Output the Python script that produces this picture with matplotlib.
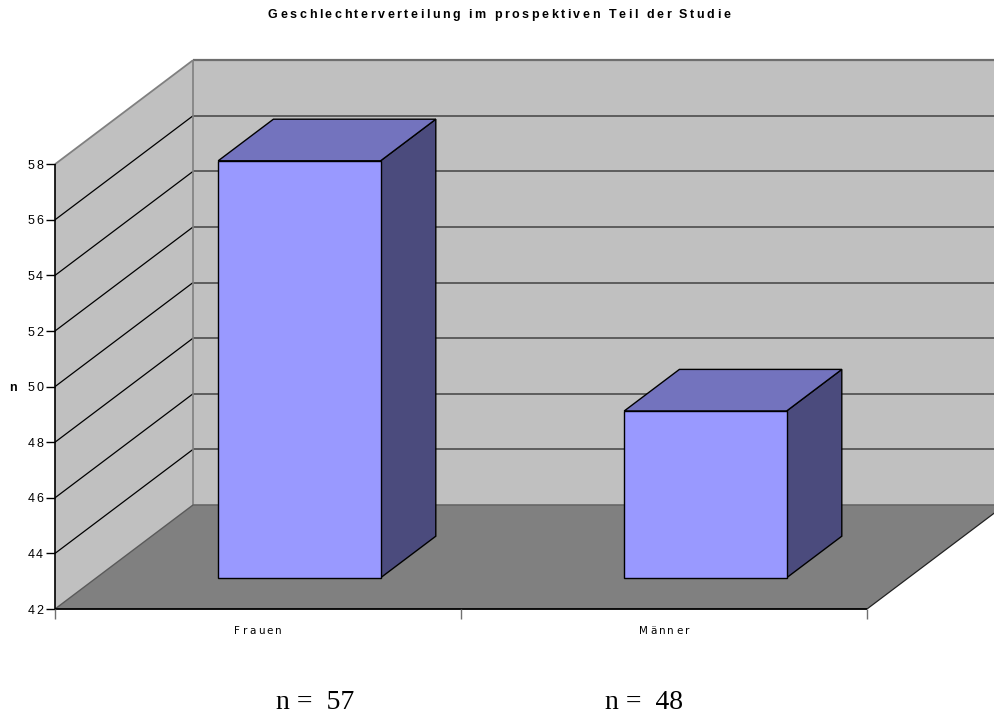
import matplotlib
matplotlib.use("Agg")
import matplotlib.pyplot as plt
from matplotlib.patches import Polygon
from matplotlib.transforms import IdentityTransform
from matplotlib import font_manager
from matplotlib.ft2font import FT2Font

# ---- data -------------------------------------------------------------
categories = ["Frauen", "Männer"]
counts = [57, 48]
count_labels = ["n =  57", "n =  48"]
y_ticks = [42, 44, 46, 48, 50, 52, 54, 56, 58]
y_label = "n"
title = "Geschlechterverteilung im prospektiven Teil der Studie"

# ---- figure / projection setup ---------------------------------------
W, H, DPI = 994, 715, 100
X0_PX, CAT_PX = 55, 406          # left edge of floor, width of one category
BASE_PX, V_PX = 609, 27.8        # pixel row of the 42-line, pixels per unit
V0, V1 = y_ticks[0], y_ticks[-1]
DEPTH_X = 138 / CAT_PX           # oblique depth offset (category units)
DEPTH_V = 104 / V_PX             # oblique depth offset (value units)
BAR_W = 0.40
BAR_D0, BAR_D1 = 0.30, 0.70

WALL = "#C0C0C0"
FLOOR = "#808080"
FRONT = "#9999FF"
TOP = "#7373BE"
SIDE = "#4B4B7D"
SANS = "Liberation Sans"

fig = plt.figure(figsize=(W / DPI, H / DPI), dpi=DPI)
ax = fig.add_axes([0, 0, 1, 1])
ax.set_axis_off()
ax.set_xlim(-X0_PX / CAT_PX, (W - X0_PX) / CAT_PX)
ax.set_ylim(V0 - (H - BASE_PX) / V_PX, V0 + BASE_PX / V_PX)


def proj(x, d, v):
    return (x + d * DEPTH_X, v + d * DEPTH_V)


def poly(pts, fc, ec="none", lw=0.0, z=1):
    ax.add_patch(Polygon(pts, closed=True, facecolor=fc, edgecolor=ec,
                         linewidth=lw, zorder=z, joinstyle="miter"))


def line(p, q, color, lw, z=2):
    ax.plot([p[0], q[0]], [p[1], q[1]], color=color, lw=lw, zorder=z,
            solid_capstyle="butt")


def spaced_text(xd, yd, s, size, weight="normal", spacing=0.0, ha="left",
                family=SANS, width=None, color="black"):
    """Draw text char by char with extra tracking; xd/yd in display px, yd = baseline."""
    fp = font_manager.FontProperties(family=family, weight=weight, size=size)
    font = FT2Font(font_manager.findfont(fp))
    font.set_size(size, DPI)
    advs = [font.load_char(ord(c)).linearHoriAdvance / 65536 for c in s]
    if width is not None and len(s) > 1:
        spacing = (width - sum(advs)) / (len(s) - 1)
    total = sum(advs) + spacing * (len(s) - 1)
    if ha == "center":
        x = xd - total / 2
    elif ha == "right":
        x = xd - total
    else:
        x = xd
    for c, a in zip(s, advs):
        fig.text(x, yd, c, fontproperties=fp, ha="left", va="baseline",
                 transform=IdentityTransform(), color=color)
        x += a + spacing


n_cat = len(categories)

# ---- walls and floor --------------------------------------------------
poly([proj(0, 0, V0), proj(0, 1, V0), proj(0, 1, V1), proj(0, 0, V1)], WALL)
poly([proj(0, 1, V0), proj(n_cat + 0.5, 1, V0), proj(n_cat + 0.5, 1, V1),
      proj(0, 1, V1)], WALL)
poly([proj(0, 0, V0), proj(n_cat, 0, V0), proj(n_cat, 1, V0), proj(0, 1, V0)],
     FLOOR, z=3)

# gridlines
for v in y_ticks[1:-1]:
    line(proj(0, 0, v), proj(0, 1, v), "black", 0.9)
    line(proj(0, 1, v), proj(n_cat + 0.5, 1, v), "#555555", 1.3)

# wall edges
line(proj(0, 0, V1), proj(0, 1, V1), "#808080", 1.3)
line(proj(0, 1, V1), proj(n_cat + 0.5, 1, V1), "#6E6E6E", 1.6)
line(proj(0, 1, V0), proj(0, 1, V1), "#808080", 1.2)
line(proj(0, 0, V0), proj(0, 1, V0), "#5A5A5A", 1.0, z=4)
line(proj(0, 1, V0), proj(n_cat + 0.5, 1, V0), "#666666", 1.2, z=4)
line(proj(n_cat, 0, V0), proj(n_cat, 1, V0), "#222222", 0.9, z=4)

# ---- bars -------------------------------------------------------------
for i, val in enumerate(counts):
    x0 = i + 0.5 - BAR_W / 2
    x1 = i + 0.5 + BAR_W / 2
    d0, d1 = BAR_D0, BAR_D1
    poly([proj(x1, d0, V0), proj(x1, d1, V0), proj(x1, d1, val),
          proj(x1, d0, val)], SIDE, "black", 1.0, z=5)
    poly([proj(x0, d0, val), proj(x1, d0, val), proj(x1, d1, val),
          proj(x0, d1, val)], TOP, "black", 1.0, z=5)
    poly([proj(x0, d0, V0), proj(x1, d0, V0), proj(x1, d0, val),
          proj(x0, d0, val)], FRONT, "black", 1.0, z=6)

# ---- axes lines and ticks ---------------------------------------------
line(proj(0, 0, V0), proj(0, 0, V1), "black", 1.2, z=7)
line(proj(0, 0, V0), proj(n_cat, 0, V0), "black", 1.3, z=7)
tick_len_x = 9.5 / CAT_PX
for v in y_ticks:
    line((0, v), (-tick_len_x, v), "black", 1.0, z=7)
tick_len_v = 10 / V_PX
for k in range(n_cat + 1):
    line((k, V0), (k, V0 - tick_len_v), "#707070", 1.0, z=7)

# ---- labels -----------------------------------------------------------
for v in y_ticks:
    xd, yd = ax.transData.transform((-12 / CAT_PX, v))
    spaced_text(xd, yd - 4.5, str(v), 9, spacing=1.8, ha="right")

for k, name in enumerate(categories):
    xd, yd = ax.transData.transform((k + 0.5, V0))
    spaced_text(xd, yd - 25, name, 7.5, spacing=2.2, ha="center",
                family="DejaVu Sans")

xd, yd = ax.transData.transform((-0.1, (V0 + V1) / 2))
spaced_text(13, yd - 4.5, y_label, 9, weight="bold", ha="center")

spaced_text(499, H - 18, title, 9, weight="bold", ha="center", width=462)

for xc, lab in zip([315, 644], count_labels):
    fig.text(xc, 6, lab, family="Liberation Serif", fontsize=20,
             ha="center", va="baseline", transform=IdentityTransform())

fig.savefig("out.png", dpi=DPI)
